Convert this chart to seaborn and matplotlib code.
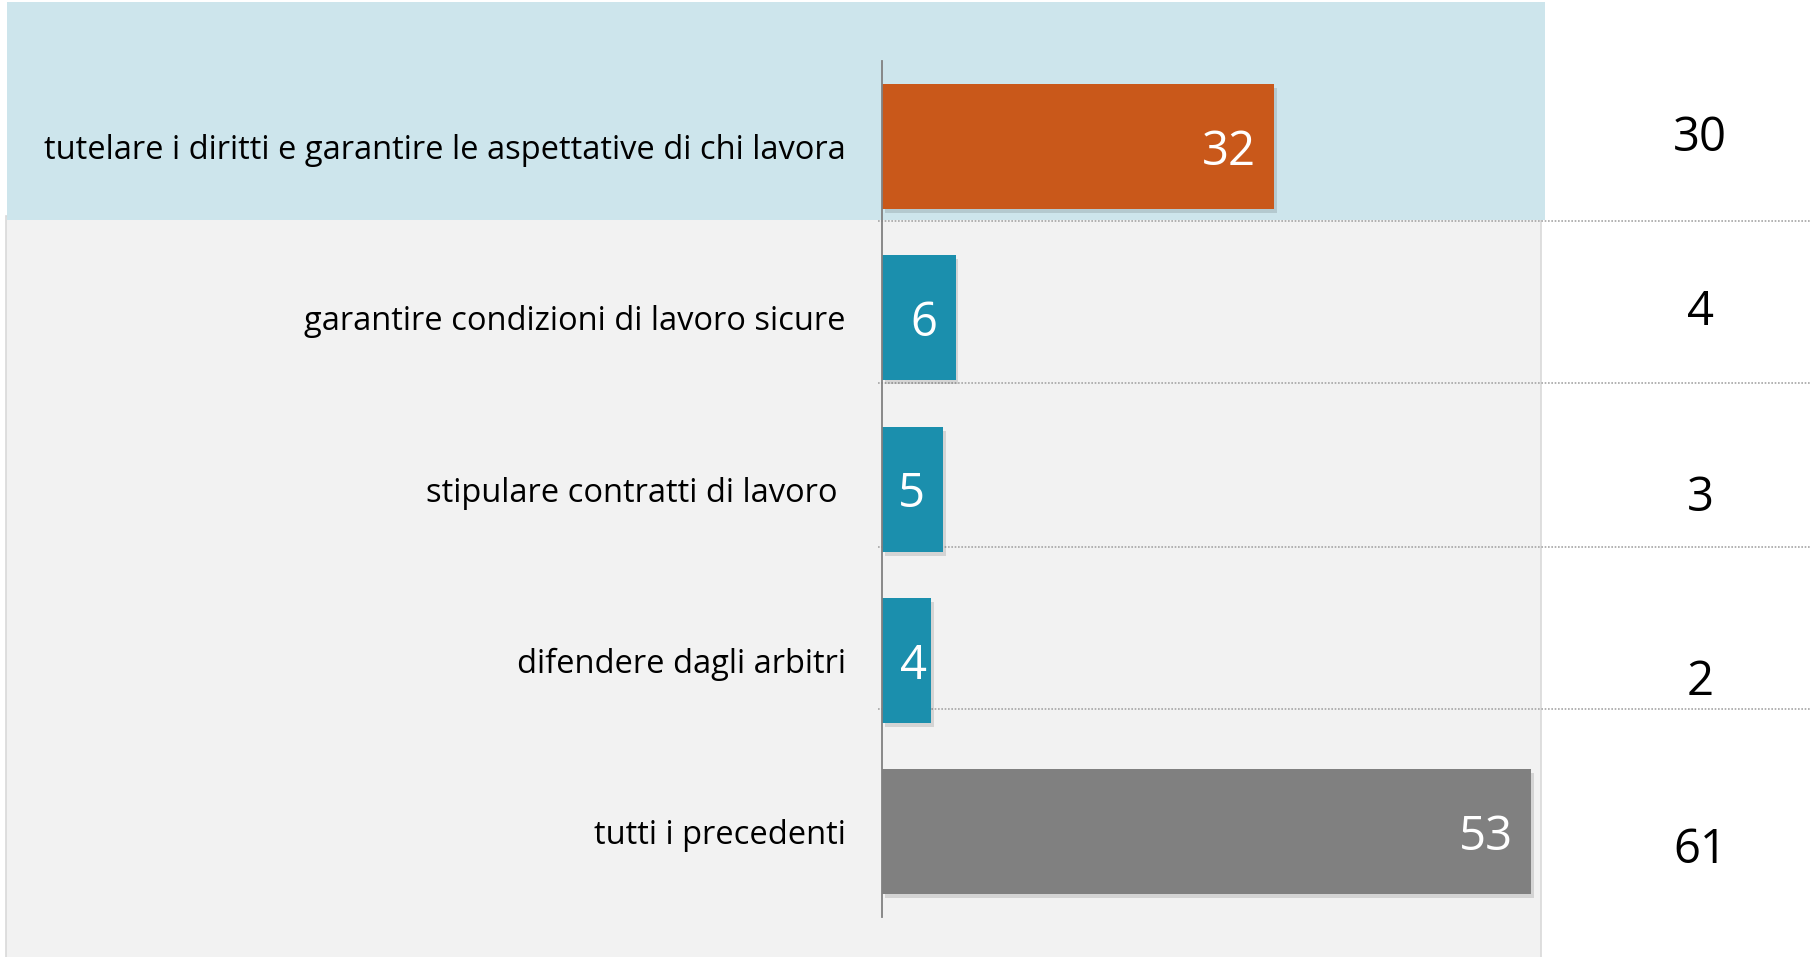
import matplotlib.pyplot as plt
import matplotlib.patheffects as pe
from matplotlib.patches import Rectangle
import seaborn as sns
import pandas as pd

# data
categories = [
    "tutelare i diritti e garantire le aspettative di chi lavora",
    "garantire condizioni di lavoro sicure",
    "stipulare contratti di lavoro ",
    "difendere dagli arbitri",
    "tutti i precedenti",
]
values = [32, 6, 5, 4, 53]
prev_values = [30, 4, 3, 2, 61]
bar_colors = ["#c9581a", "#1b8fad", "#1b8fad", "#1b8fad", "#808080"]

# layout (pixels of the 1810x957 canvas)
W, H = 1810, 957
x0_px = 882           # bar baseline
px_per_unit = 12.25
row0_px = 146.5       # centre of first bar
row_px = 171.25       # row spacing
prev_y_px = [133, 307, 493, 677, 845]
sep_y_px = [221, 383, 546.5, 708.5]
NUM_SIZE = 34

sns.set_theme(style="white")
plt.rcParams['font.family'] = ['Open Sans', 'DejaVu Sans']

df = pd.DataFrame({"cat": categories, "val": values})

fig = plt.figure(figsize=(W / 100, H / 100), dpi=100)
fig.patch.set_facecolor("white")


def px2fig(x, y, w, h):
    return (x / W, 1 - (y + h) / H, w / W, h / H)


# background panels
gx, gy, gw, gh = px2fig(6, 216, 1535, 745)
fig.patches.append(Rectangle((gx, gy), gw, gh, transform=fig.transFigure,
                             facecolor="#f2f2f2", edgecolor="#d9d9d9", lw=1.2, zorder=-2))
bx, by, bw, bh = px2fig(7, 2, 1538, 218)
fig.patches.append(Rectangle((bx, by), bw, bh, transform=fig.transFigure,
                             facecolor="#cde5ec", edgecolor="none", zorder=-1))

ax = fig.add_axes([x0_px / W, 0, (W - x0_px) / W, 1])
ax.set_facecolor("none")

sns.barplot(data=df, x="val", y="cat", hue="cat", palette=bar_colors,
            orient="h", width=125 / row_px, legend=False, ax=ax,
            saturation=1)

shadow = [pe.SimplePatchShadow(offset=(2, -3), shadow_rgbFace="#000000", alpha=0.12), pe.Normal()]
for p in ax.patches:
    p.set_path_effects(shadow)
    p.set_edgecolor("none")

ax.set_xlim(0, (W - x0_px) / px_per_unit)
ax.set_ylim((H - row0_px) / row_px, -row0_px / row_px)

# value labels inside bars (inside end, but kept clear of the baseline)
pt = 72 / 100
for i, v in enumerate(values):
    bar_px = v * px_per_unit
    if bar_px - 18 - 24 < 18:
        ax.annotate(str(v), (0, i), xytext=(18 * pt, -4), textcoords="offset points",
                    ha="left", va="center", color="white", fontsize=NUM_SIZE)
    else:
        ax.annotate(str(v), (v, i), xytext=(-18 * pt, -4), textcoords="offset points",
                    ha="right", va="center", color="white", fontsize=NUM_SIZE)

# separators for the right column
for s in sep_y_px:
    ax.axhline((s - row0_px) / row_px, xmin=-0.004, xmax=1, color="#a6a6a6",
               lw=1.2, ls=(0, (1, 1)), clip_on=False, zorder=0.5)

# previous values column
x_prev = (1700 - x0_px) / px_per_unit
for v, yp in zip(prev_values, prev_y_px):
    ax.annotate(str(v), (x_prev, (yp - row0_px) / row_px), xytext=(0, -4),
                textcoords="offset points", ha="center", va="center",
                fontsize=NUM_SIZE, color="black")

sns.despine(ax=ax, top=True, right=True, bottom=True, left=False)
ax.spines['left'].set_bounds(-0.5, 4.5)
ax.spines['left'].set_color("#808080")
ax.spines['left'].set_linewidth(1.3)
ax.set_xticks([])
ax.set_xlabel("")
ax.set_ylabel("")
ax.tick_params(axis="y", length=0, pad=26, labelsize=23.5, labelcolor="black")

plt.savefig("out.png", dpi=100)
plt.close()
